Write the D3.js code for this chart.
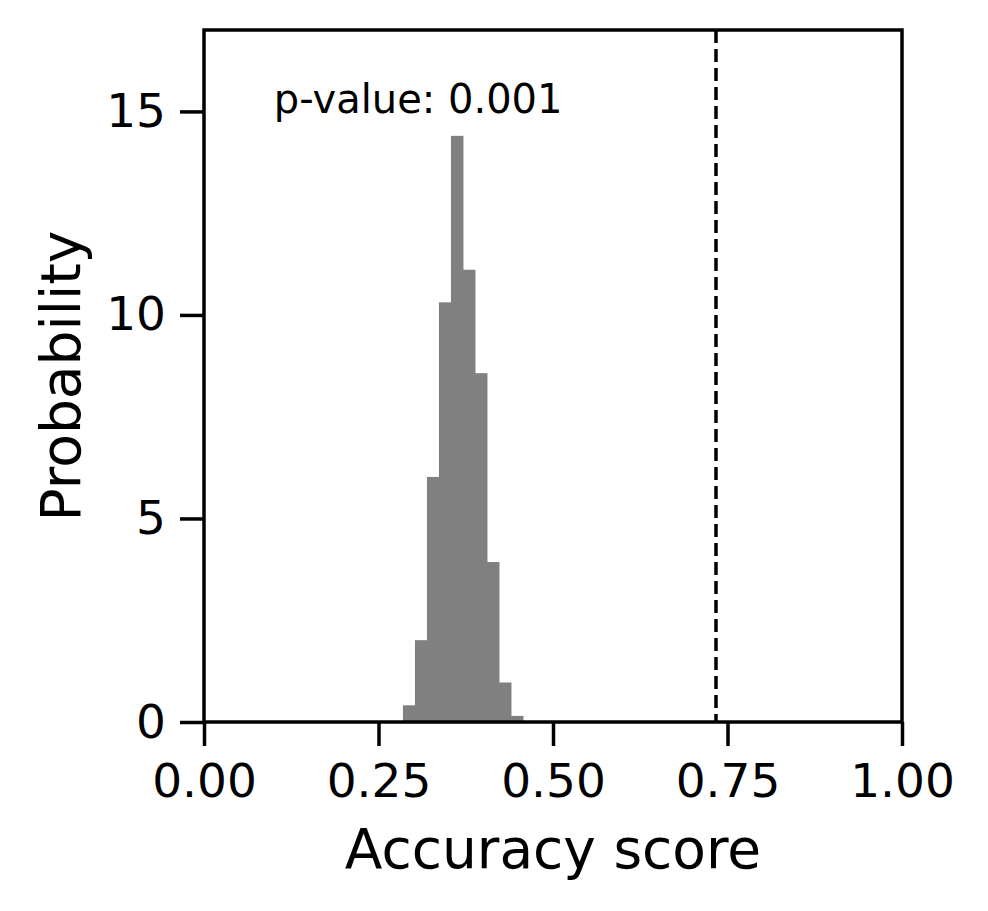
<html>
<head>
<meta charset="utf-8">
<script src="https://d3js.org/d3.v7.min.js"></script>
<style>body{margin:0;background:#fff}</style>
</head>
<body>
<script>
    var binStart = 0.285, binWidth = 0.0172;
    var binHeights = [0.41, 2.01, 6.02, 10.31, 14.4, 11.11, 8.57, 3.93, 0.97, 0.15];
    var observed = 0.7335;
    var xTicks = [0, 0.25, 0.5, 0.75, 1.0];
    var yTicks = [0, 5, 10, 15];
    var pLabel = "p-value: 0.001";

    var W = 988, H = 911,
        margin = {left: 204, top: 30, right: 86, bottom: 189};

    var svg = d3.select("body").append("svg").attr("width", W).attr("height", H)
        .style("font-family", "DejaVu Sans");

    var x = d3.scaleLinear().domain([0, 1]).range([margin.left, W - margin.right]);
    var y = d3.scaleLinear().domain([0, 17]).range([H - margin.bottom, margin.top]);

    // bars
    svg.selectAll(".bar").data(binHeights).enter().append("rect")
        .attr("x", function (d, i) { return x(binStart + i * binWidth); })
        .attr("width", x(binWidth) - x(0) + 0.5)
        .attr("y", function (d) { return y(d); })
        .attr("height", function (d) { return y(0) - y(d); })
        .attr("fill", "#808080");

    // observed score line
    svg.append("line")
        .attr("x1", x(observed)).attr("x2", x(observed))
        .attr("y1", y(17)).attr("y2", y(0))
        .attr("stroke", "#000").attr("stroke-width", 3.5)
        .attr("stroke-dasharray", "13,6");

    var xAxis = svg.append("g").attr("transform", "translate(0," + y(0) + ")")
        .call(d3.axisBottom(x).tickValues(xTicks).tickFormat(d3.format(".2f")).tickSize(24).tickPadding(18));
    var yAxis = svg.append("g").attr("transform", "translate(" + x(0) + ",0)")
        .call(d3.axisLeft(y).tickValues(yTicks).tickSize(24).tickPadding(14));
    [xAxis, yAxis].forEach(function (a) {
        a.select(".domain").remove();
        a.selectAll("line").attr("stroke-width", 3.5);
        a.selectAll("text").attr("font-size", 47).attr("font-family", "DejaVu Sans").attr("fill", "#000");
    });

    // frame
    svg.append("rect")
        .attr("x", x(0)).attr("y", y(17))
        .attr("width", x(1) - x(0)).attr("height", y(0) - y(17))
        .attr("fill", "none").attr("stroke", "#000").attr("stroke-width", 3.5);

    svg.append("text").attr("x", x(0.1)).attr("y", y(15) + 2)
        .attr("font-size", 40).text(pLabel);

    svg.append("text").attr("x", (x(0) + x(1)) / 2).attr("y", 868)
        .attr("text-anchor", "middle").attr("font-size", 55).text("Accuracy score");
    svg.append("text")
        .attr("transform", "translate(80," + (y(0) + y(17)) / 2 + ") rotate(-90)")
        .attr("text-anchor", "middle").attr("font-size", 55).text("Probability");
</script>
</body>
</html>
